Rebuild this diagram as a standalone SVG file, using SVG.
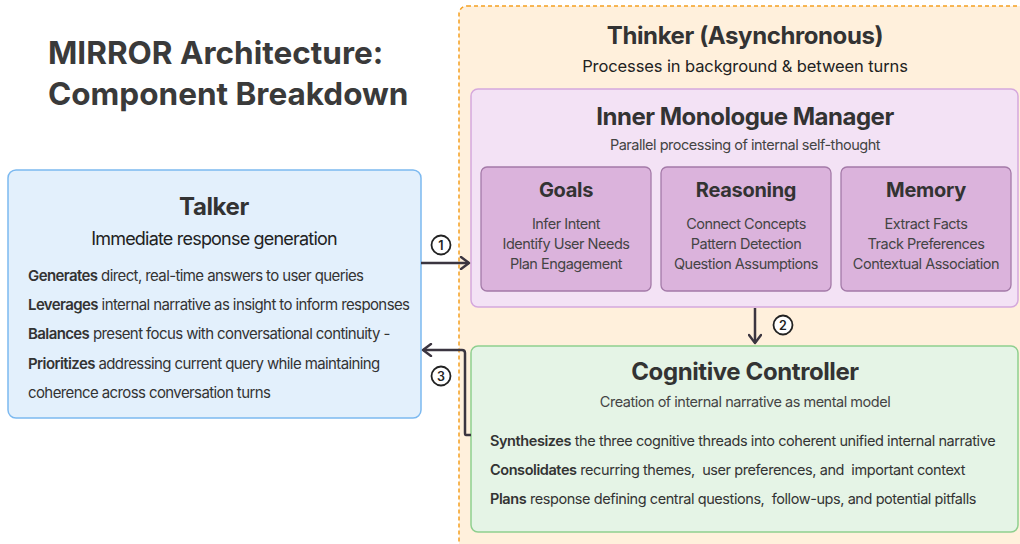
<svg xmlns="http://www.w3.org/2000/svg" width="1020" height="544" viewBox="0 0 1020 544">
<defs>
<marker id="chev" markerWidth="14" markerHeight="14" refX="11" refY="7" orient="auto" markerUnits="userSpaceOnUse">
<path d="M3,1 L11,7 L3,13" fill="none" stroke="#3b3540" stroke-width="2.4" stroke-linecap="round" stroke-linejoin="round"/>
</marker>
<style>
text{font-family:Inter,"Noto Sans","Liberation Sans",sans-serif;fill:#333;}
.h{font-weight:700;text-anchor:middle;}
.c{text-anchor:middle;}
.b{font-weight:600;}
.pre{white-space:pre;}
.conn{fill:none;stroke:#3b3540;stroke-width:2.5;}
.num circle{fill:#fff;stroke:#222;stroke-width:1.8;}
.num text{font-size:12.5px;font-weight:600;text-anchor:middle;fill:#222;}
.sub rect{fill:#dbb3dc;stroke:#a47aa8;stroke-width:1.3;}
.sub text{font-size:14.5px;fill:#444;letter-spacing:-0.5px;}
.sub text.h{letter-spacing:-0.3px;fill:#333;}
</style>
</defs>
<rect width="1020" height="544" fill="#ffffff"/>

<g id="title">
<text x="48" y="64" style="font-size:31.5px;font-weight:700;fill:#3a3a3a">MIRROR Architecture:</text>
<text x="48" y="105" style="font-size:31.5px;font-weight:700;fill:#3a3a3a">Component Breakdown</text>
</g>

<g id="thinker">
<rect x="459" y="6" width="600" height="580" rx="8" fill="#fff0dc" stroke="#f5a020" stroke-width="1.5" stroke-dasharray="4,3"/>
<text class="h" x="745" y="44" style="font-size:24px;letter-spacing:-0.4px">Thinker (Asynchronous)</text>
<text class="c" x="745" y="72" style="font-size:16.5px;fill:#222;letter-spacing:-0.1px">Processes in background &amp; between turns</text>
</g>

<g id="talker">
<rect x="8" y="170" width="413" height="248" rx="8" fill="#e3f0fc" stroke="#7cb9f0" stroke-width="1.5"/>
<text class="h" x="214" y="215" style="font-size:24px;letter-spacing:-0.4px">Talker</text>
<text class="c" x="214" y="245" style="font-size:18px;fill:#222;letter-spacing:-0.8px">Immediate response generation</text>
<g style="font-size:15px;fill:#444;letter-spacing:-0.6px">
<text x="28" y="281"><tspan class="b" style="fill:#333">Generates</tspan> direct, real-time answers to user queries</text>
<text x="28" y="310"><tspan class="b" style="fill:#333">Leverages</tspan> internal narrative as insight to inform responses</text>
<text x="28" y="339"><tspan class="b" style="fill:#333">Balances</tspan> present focus with conversational continuity -</text>
<text x="28" y="369"><tspan class="b" style="fill:#333">Prioritizes</tspan> addressing current query while maintaining</text>
<text x="28" y="398">coherence across conversation turns</text>
</g>
</g>

<g id="inner-monologue">
<rect x="471" y="89" width="547" height="218" rx="7" fill="#f3e2f5" stroke="#d5a8dd" stroke-width="1.5"/>
<text class="h" x="745" y="125" style="font-size:24px;letter-spacing:-0.5px">Inner Monologue Manager</text>
<text class="c" x="745" y="150" style="font-size:14.5px;fill:#444;letter-spacing:-0.48px">Parallel processing of internal self-thought</text>
</g>

<g id="goals" class="sub">
<rect x="481" y="167" width="170" height="124" rx="6"/>
<text class="h" x="566" y="197" style="font-size:20px">Goals</text>
<text class="c" x="566" y="229">Infer Intent</text>
<text class="c" x="566" y="249">Identify User Needs</text>
<text class="c" x="566" y="269">Plan Engagement</text>
</g>

<g id="reasoning" class="sub">
<rect x="661" y="167" width="170" height="124" rx="6"/>
<text class="h" x="746" y="197" style="font-size:20px">Reasoning</text>
<text class="c" x="746" y="229">Connect Concepts</text>
<text class="c" x="746" y="249">Pattern Detection</text>
<text class="c" x="746" y="269">Question Assumptions</text>
</g>

<g id="memory" class="sub">
<rect x="841" y="167" width="170" height="124" rx="6"/>
<text class="h" x="926" y="197" style="font-size:20px">Memory</text>
<text class="c" x="926" y="229">Extract Facts</text>
<text class="c" x="926" y="249">Track Preferences</text>
<text class="c" x="926" y="269">Contextual Association</text>
</g>

<g id="cognitive-controller">
<rect x="471" y="346" width="547" height="186" rx="7" fill="#e5f4e6" stroke="#8fcf8f" stroke-width="1.5"/>
<text class="h" x="745" y="380" style="font-size:24px;letter-spacing:-0.4px">Cognitive Controller</text>
<text class="c" x="745" y="407" style="font-size:14.5px;fill:#444;letter-spacing:-0.48px">Creation of internal narrative as mental model</text>
<g style="font-size:14.5px;fill:#444;letter-spacing:-0.42px">
<text x="490" y="446"><tspan class="b" style="fill:#333">Synthesizes</tspan> the three cognitive threads into coherent unified internal narrative</text>
<text class="pre" x="490" y="475"><tspan class="b" style="fill:#333">Consolidates</tspan> recurring themes,  user preferences, and  important context</text>
<text class="pre" x="490" y="504"><tspan class="b" style="fill:#333">Plans</tspan> response defining central questions,  follow-ups, and potential pitfalls</text>
</g>
</g>

<g id="connectors">
<path class="conn" d="M421,263 L469,263" marker-end="url(#chev)"/>
<path class="conn" d="M755,308 L755,343" marker-end="url(#chev)"/>
<path class="conn" d="M471,435 L466,435 Q465,435 465,433 L465,353 Q465,350 462,350 L423,350" marker-end="url(#chev)"/>
<g class="num"><circle cx="441" cy="245" r="9.5"/><text x="441" y="249.5">1</text></g>
<g class="num"><circle cx="783" cy="325" r="9.5"/><text x="783" y="329.5">2</text></g>
<g class="num"><circle cx="441" cy="376" r="9.5"/><text x="441" y="380.5">3</text></g>
</g>
</svg>
